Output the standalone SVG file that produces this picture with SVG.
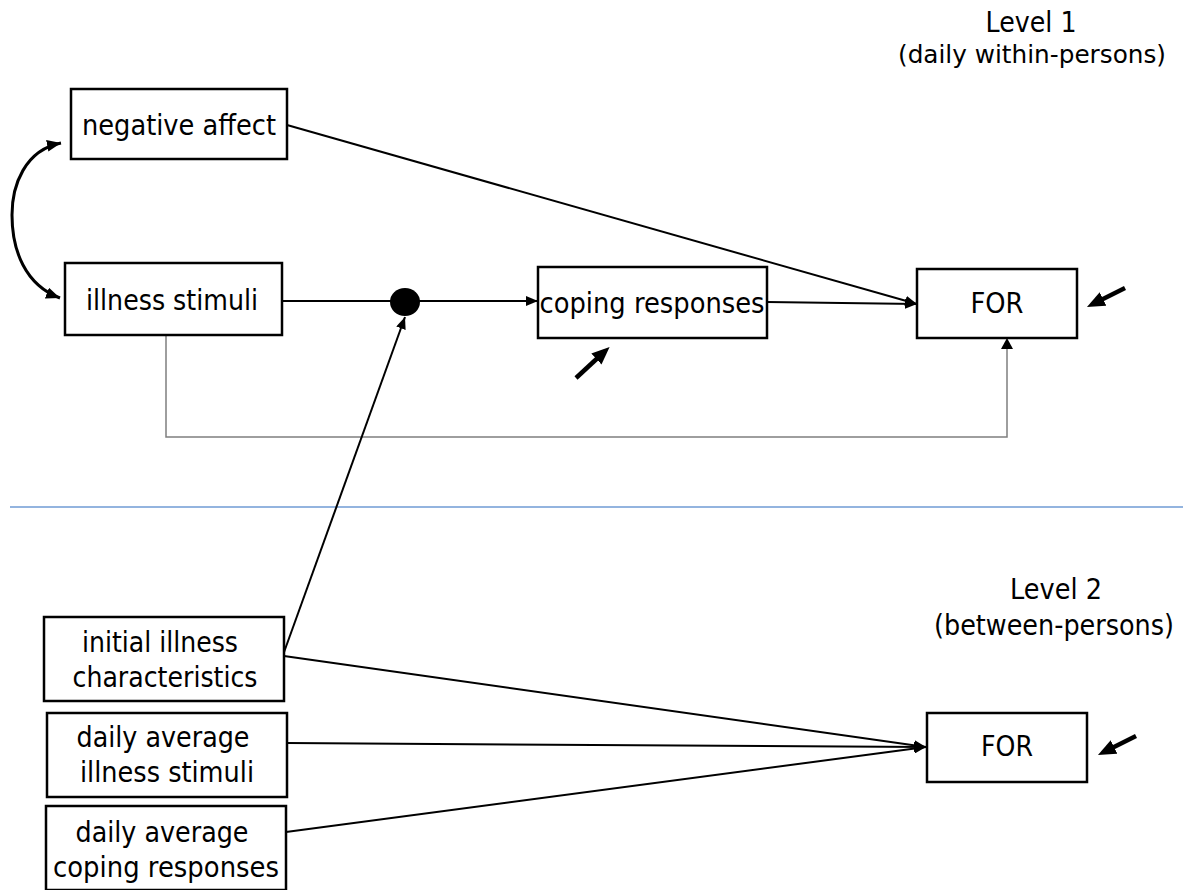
<svg xmlns="http://www.w3.org/2000/svg" width="1196" height="890" viewBox="0 0 1196 890">
<style>
.box{fill:#fff;stroke:#000;stroke-width:2.5}
.t{font-family:"DejaVu Sans","Noto Sans",sans-serif;font-size:28px;fill:#000;text-anchor:middle}
.c{fill:none;stroke:#000;stroke-width:2}
.cv{fill:none;stroke:#000;stroke-width:3}
.g{fill:none;stroke:#7f7f7f;stroke-width:1.5}
.fat{fill:none;stroke:#000;stroke-width:4.5}
</style>
<defs>
<marker id="ah" viewBox="0 0 12 10" refX="12" refY="5" markerWidth="12" markerHeight="10" markerUnits="userSpaceOnUse" orient="auto-start-reverse">
<path d="M0,0 L12,5 L0,10 z" fill="#000"/>
</marker>
<marker id="ahc" viewBox="0 0 12 10" refX="12" refY="5" markerWidth="14" markerHeight="12" markerUnits="userSpaceOnUse" orient="auto-start-reverse">
<path d="M0,0 L12,5 L0,10 z" fill="#000"/>
</marker>
<marker id="ahb" viewBox="0 0 12 10" refX="6" refY="5" markerWidth="18" markerHeight="16" markerUnits="userSpaceOnUse" orient="auto">
<path d="M0,0 L12,5 L0,10 z" fill="#000"/>
</marker>
</defs>
<rect width="1196" height="890" fill="#fff"/>
<line x1="10" y1="507" x2="1183" y2="507" stroke="#6f9bd4" stroke-width="1.5"/>
<g id="connectors">
<path class="cv" d="M61,143 C25,150 12,185 12,215 C12,250 25,285 60,298" marker-start="url(#ahc)" marker-end="url(#ahc)"/>
<line class="c" x1="282" y1="301" x2="405" y2="301"/>
<line class="c" x1="405" y1="301" x2="538" y2="301" marker-end="url(#ah)"/>
<line class="c" x1="767" y1="302" x2="917" y2="304" marker-end="url(#ah)"/>
<line class="c" x1="287" y1="125" x2="917" y2="304" marker-end="url(#ah)"/>
<path class="g" d="M166,335 L166,437 L1007,437 L1007,340"/>
<path d="M1001,349 L1007,338 L1013,349 z" fill="#000"/>
<line class="c" x1="283" y1="655" x2="405" y2="317" marker-end="url(#ah)"/>
<line class="c" x1="284" y1="656" x2="926" y2="747" marker-end="url(#ah)"/>
<line class="c" x1="287" y1="743" x2="926" y2="747" marker-end="url(#ah)"/>
<line class="c" x1="286" y1="832" x2="926" y2="747" marker-end="url(#ah)"/>
<line class="fat" x1="576" y1="378" x2="603" y2="353" marker-end="url(#ahb)"/>
<line class="fat" x1="1125" y1="288" x2="1095" y2="303" marker-end="url(#ahb)"/>
<line class="fat" x1="1136" y1="736" x2="1106" y2="751" marker-end="url(#ahb)"/>
</g>
<g id="dot"><ellipse cx="405" cy="302" rx="15" ry="14" fill="#000"/></g>
<g id="negative-affect"><rect class="box" x="71" y="89" width="216" height="70"/><text class="t" x="179" y="135" textLength="194" lengthAdjust="spacingAndGlyphs">negative affect</text></g>
<g id="illness-stimuli"><rect class="box" x="65" y="263" width="217" height="72"/><text class="t" x="172" y="310" textLength="172" lengthAdjust="spacingAndGlyphs">illness stimuli</text></g>
<g id="coping-responses"><rect class="box" x="538" y="267" width="229" height="71"/><text class="t" x="652" y="313" textLength="225" lengthAdjust="spacingAndGlyphs">coping responses</text></g>
<g id="for1"><rect class="box" x="917" y="269" width="160" height="69"/><text class="t" x="997" y="313" textLength="53" lengthAdjust="spacingAndGlyphs">FOR</text></g>
<g id="for2"><rect class="box" x="927" y="713" width="160" height="69"/><text class="t" x="1007" y="756" textLength="52" lengthAdjust="spacingAndGlyphs">FOR</text></g>
<g id="initial-illness"><rect class="box" x="44" y="617" width="240" height="84"/><text class="t" x="160" y="652" textLength="156" lengthAdjust="spacingAndGlyphs">initial illness</text><text class="t" x="165" y="687" textLength="185" lengthAdjust="spacingAndGlyphs">characteristics</text></g>
<g id="daily-avg-illness"><rect class="box" x="47" y="713" width="240" height="84"/><text class="t" x="163" y="747" textLength="173" lengthAdjust="spacingAndGlyphs">daily average</text><text class="t" x="167" y="782" textLength="174" lengthAdjust="spacingAndGlyphs">illness stimuli</text></g>
<g id="daily-avg-coping"><rect class="box" x="46" y="806" width="240" height="84"/><text class="t" x="162" y="842" textLength="173" lengthAdjust="spacingAndGlyphs">daily average</text><text class="t" x="166" y="877" textLength="226" lengthAdjust="spacingAndGlyphs">coping responses</text></g>
<g id="level1"><text class="t" x="1031" y="32" textLength="91" lengthAdjust="spacingAndGlyphs">Level 1</text><text class="t" x="1032" y="63" style="font-size:25px" textLength="268" lengthAdjust="spacingAndGlyphs">(daily within-persons)</text></g>
<g id="level2"><text class="t" x="1056" y="599" textLength="92" lengthAdjust="spacingAndGlyphs">Level 2</text><text class="t" x="1054" y="635" textLength="240" lengthAdjust="spacingAndGlyphs">(between-persons)</text></g>
</svg>
